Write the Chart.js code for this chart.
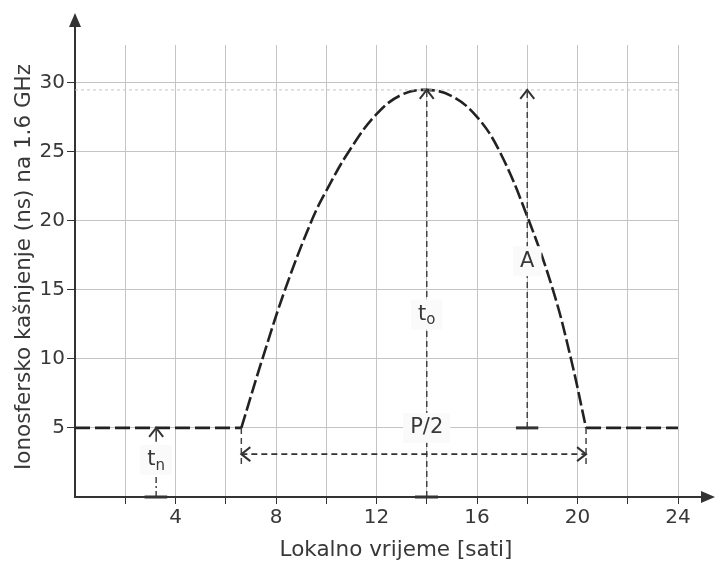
<!DOCTYPE html>
<html>
<head>
<meta charset="utf-8">
<script src="https://cdn.jsdelivr.net/npm/chart.js@4"></script>
<style>
  html, body { margin: 0; padding: 0; background: #fff; }
  #wrap { width: 715px; height: 563px; }
</style>
</head>
<body>
<div id="wrap"><canvas id="delayChart" width="715" height="563"></canvas></div>
<script>
// values (hours, ns)
const nightLeftHours = [0, 6.62];
const nightLeftDelay = [5, 5];
const dayHours = [6.62, 7.46, 8.36, 9.42, 10, 10.9, 12, 13, 14, 15, 16, 16.9, 18, 19.02, 19.74, 20.34];
const dayDelay = [5, 10, 15, 20, 22.15, 25, 27.7, 29.1, 29.45, 29.0, 27.5, 25, 20.3, 15, 10, 5];
const nightRightHours = [20.34, 24];
const nightRightDelay = [5, 5];
const peakLineHours = [0, 24];
const peakLineDelay = [29.45, 29.45];

const gridHours = [2, 4, 6, 8, 10, 12, 14, 16, 18, 20, 22, 24];
const hourLabels = [4, 8, 12, 16, 20, 24];
const delayTicks = [5, 10, 15, 20, 25, 30];

// annotation anchors (data units)
const peakHour = 14, peakDelay = 29.45;
const ampHour = 18, nightDelay = 5;
const riseHour = 6.62, setHour = 20.34;
const tnHour = 3.23;

const xTitle = 'Lokalno vrijeme [sati]';
const yTitle = 'Ionosfersko kašnjenje (ns) na 1.6 GHz';

const txt = '#383838';
const face = '"DejaVu Sans"';
const pts = (xs, ys) => xs.map((v, i) => ({ x: v, y: ys[i] }));

function chevron(ctx, x, y, dir) {
  // open arrow head, tip at (x,y)
  const s = 7, l = 9;
  ctx.beginPath();
  if (dir === 'up') { ctx.moveTo(x - s, y + l); ctx.lineTo(x, y); ctx.lineTo(x + s, y + l); }
  if (dir === 'left') { ctx.moveTo(x + l, y - s); ctx.lineTo(x, y); ctx.lineTo(x + l, y + s); }
  if (dir === 'right') { ctx.moveTo(x - l, y - s); ctx.lineTo(x, y); ctx.lineTo(x - l, y + s); }
  ctx.stroke();
}

function seg(ctx, x1, y1, x2, y2, dash, w, col) {
  ctx.save();
  ctx.setLineDash(dash);
  ctx.lineWidth = w;
  ctx.strokeStyle = col;
  ctx.beginPath();
  ctx.moveTo(x1, y1);
  ctx.lineTo(x2, y2);
  ctx.stroke();
  ctx.restore();
}

function label(ctx, x, y, main, sub) {
  ctx.save();
  ctx.font = '21px ' + face;
  const w1 = ctx.measureText(main).width;
  ctx.font = '15px ' + face;
  const w2 = sub ? ctx.measureText(sub).width : 0;
  const w = w1 + w2;
  ctx.fillStyle = '#fafafa';
  ctx.fillRect(x - w / 2 - 7, y - 15, w + 14, 30);
  ctx.fillStyle = txt;
  ctx.textBaseline = 'middle';
  ctx.textAlign = 'left';
  ctx.font = '21px ' + face;
  ctx.fillText(main, x - w / 2, y);
  if (sub) {
    ctx.font = '15px ' + face;
    ctx.fillText(sub, x - w / 2 + w1, y + 6);
  }
  ctx.restore();
}

const sketchMarks = {
  id: 'sketchMarks',
  afterDatasetsDraw(chart) {
    const { ctx, scales: { x, y } } = chart;
    const px = v => x.getPixelForValue(v);
    const py = v => y.getPixelForValue(v);
    const dash = [6, 4], col = '#444';

    ctx.save();
    ctx.lineCap = 'butt';
    // t_o : peak arrow
    seg(ctx, px(peakHour), py(0), px(peakHour), py(peakDelay), dash, 1.5, col);
    // A : amplitude arrow
    seg(ctx, px(ampHour), py(nightDelay), px(ampHour), py(peakDelay), dash, 1.5, col);
    // drop lines at curve ends
    seg(ctx, px(riseHour), py(nightDelay), px(riseHour), py(2.2), dash, 1.5, col);
    seg(ctx, px(setHour), py(nightDelay), px(setHour), py(2.2), dash, 1.5, col);
    // P/2 span
    seg(ctx, px(riseHour), py(3.1), px(setHour), py(3.1), dash, 1.6, '#333');
    // t_n
    seg(ctx, px(tnHour), py(0), px(tnHour), py(1.7), [6, 3, 2, 3], 1.5, col);
    seg(ctx, px(tnHour), py(4.0), px(tnHour), py(nightDelay), [], 1.5, '#333');

    ctx.lineWidth = 2;
    ctx.strokeStyle = '#333';
    ctx.setLineDash([]);
    chevron(ctx, px(peakHour), py(peakDelay), 'up');
    chevron(ctx, px(ampHour), py(peakDelay), 'up');
    chevron(ctx, px(tnHour), py(nightDelay), 'up');
    chevron(ctx, px(riseHour), py(3.1), 'left');
    chevron(ctx, px(setHour), py(3.1), 'right');

    // short bars at the feet
    seg(ctx, px(13.53), py(0), px(14.45), py(0), [], 3, '#333');
    seg(ctx, px(17.55), py(nightDelay), px(18.44), py(nightDelay), [], 3, '#333');
    seg(ctx, px(2.77), py(0), px(3.67), py(0), [], 3, '#333');

    label(ctx, px(peakHour), py(5), 'P/2');
    label(ctx, px(peakHour), py(13.2), 't', 'o');
    label(ctx, px(ampHour), py(17.06), 'A');
    label(ctx, px(tnHour), py(2.7), 't', 'n');
    ctx.restore();
  },
  afterDraw(chart) {
    const { ctx, chartArea: a } = chart;
    ctx.save();
    ctx.strokeStyle = '#333';
    ctx.fillStyle = '#333';
    ctx.lineWidth = 2;
    ctx.beginPath();
    ctx.moveTo(a.left, a.top);
    ctx.lineTo(a.left, 26);
    ctx.moveTo(a.right, a.bottom);
    ctx.lineTo(703, a.bottom);
    ctx.stroke();
    ctx.beginPath();
    ctx.moveTo(a.left, 13);
    ctx.lineTo(a.left - 6, 27);
    ctx.lineTo(a.left + 6, 27);
    ctx.closePath();
    ctx.fill();
    ctx.beginPath();
    ctx.moveTo(715, a.bottom);
    ctx.lineTo(701, a.bottom - 6);
    ctx.lineTo(701, a.bottom + 6);
    ctx.closePath();
    ctx.fill();

    // axis titles (the reference sets the x title a little right of centre)
    ctx.fillStyle = txt;
    ctx.font = '21.5px ' + face;
    ctx.textAlign = 'center';
    ctx.textBaseline = 'middle';
    ctx.fillText(xTitle, 396, 550);
    ctx.translate(24.5, 267);
    ctx.rotate(-Math.PI / 2);
    ctx.fillText(yTitle, 0, 0);
    ctx.restore();
  }
};

const curveStyle = { borderColor: '#222', borderWidth: 2.6, fill: false };

new Chart(document.getElementById('delayChart'), {
  type: 'line',
  data: {
    datasets: [
      { data: pts(peakLineHours, peakLineDelay), borderColor: '#c4c4c4', borderWidth: 1, borderDash: [3, 3] },
      { data: pts(nightLeftHours, nightLeftDelay), ...curveStyle, borderDash: [15, 5] },
      { data: pts(dayHours, dayDelay), ...curveStyle, borderDash: [14, 4], tension: 0.4 },
      { data: pts(nightRightHours, nightRightDelay), ...curveStyle, borderDash: [15, 5] }
    ]
  },
  options: {
    responsive: false,
    animation: false,
    elements: { point: { radius: 0 } },
    plugins: { legend: { display: false }, tooltip: { enabled: false } },
    layout: { padding: { top: 45, right: 37 } },
    scales: {
      x: {
        type: 'linear',
        min: 0,
        max: 24,
        afterBuildTicks: s => { s.ticks = gridHours.map(v => ({ value: v })); },
        afterFit: s => { s.height = 66; },
        ticks: {
          autoSkip: false,
          maxRotation: 0,
          padding: 2,
          color: txt,
          font: { family: 'DejaVu Sans', size: 20 },
          callback: v => hourLabels.includes(v) ? String(v) : ''
        },
        grid: { color: '#c4c4c4', lineWidth: 1, tickColor: '#333', tickLength: 7 },
        border: { color: '#333', width: 2 }
      },
      y: {
        type: 'linear',
        min: 0,
        max: 32.7,
        afterBuildTicks: s => { s.ticks = delayTicks.map(v => ({ value: v })); },
        afterFit: s => { s.width = 75; },
        ticks: { padding: 2, color: txt, font: { family: 'DejaVu Sans', size: 20 } },
        grid: { color: '#c4c4c4', lineWidth: 1, tickColor: '#333', tickLength: 8 },
        border: { color: '#333', width: 2 }
      }
    }
  },
  plugins: [sketchMarks]
});
</script>
</body>
</html>
